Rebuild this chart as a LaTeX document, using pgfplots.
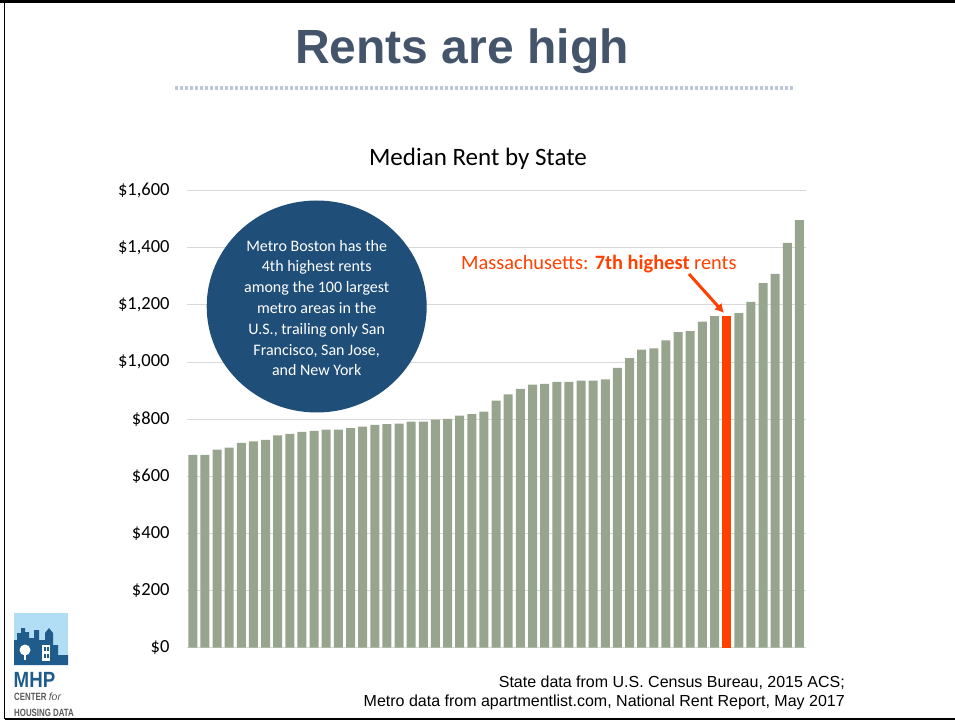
\documentclass[border=0pt]{standalone}
\usepackage{fontspec}
\setmainfont{Carlito}
\newfontfamily\arial{Liberation Sans}
\newfontfamily\narrow[FakeStretch=0.75]{Liberation Sans Bold}
\newfontfamily\narrowb[FakeStretch=0.85]{Liberation Sans Bold}
\usepackage{pgfplots}
\pgfplotsset{compat=1.18}
\usetikzlibrary{arrows.meta}
\definecolor{barg}{RGB}{152,165,142}
\definecolor{barr}{RGB}{255,64,0}
\definecolor{circ}{RGB}{31,78,121}
\definecolor{ttl}{RGB}{68,84,106}
\definecolor{dotc}{RGB}{190,200,214}
\definecolor{logob}{RGB}{31,92,139}
\definecolor{logol}{RGB}{178,222,245}
\definecolor{gridc}{RGB}{217,217,217}
\begin{document}
\begin{tikzpicture}[x=1pt,y=1pt]
\useasboundingbox (0,0) rectangle (955,721);
% frame
\draw[black,line width=3pt] (0,719.5) -- (955,719.5);
\draw[black,line width=1.2pt] (4.5,721) -- (4.5,2);
\draw[black,line width=1.2pt] (4.5,2) -- (955,2);
% title
\node[font=\arial\bfseries\fontsize{48}{48}\selectfont, text=ttl, anchor=base] at (462,721-64) {Rents are high};
\draw[dotc, line width=4pt, dash pattern=on 3pt off 2pt] (175,721-88) -- (795,721-88);
\node[font=\fontsize{25}{25}\selectfont, anchor=base] at (478,721-166) {Median Rent by State};
\begin{axis}[
  at={(186.7pt,73.5pt)}, anchor=south west,
  scale only axis, width=618.8pt, height=456.8pt,
  xmin=0.5, xmax=51.5, ymin=0, ymax=1600,
  axis line style={draw=none},
  xtick=\empty,
  ytick={0,200,...,1600},
  yticklabels={{\$0},{\$200},{\$400},{\$600},{\$800},{\$1,000},{\$1,200},{\$1,400},{\$1,600}},
  major tick length=0pt,
  ytick style={draw=none},
  yticklabel style={font=\fontsize{18.5}{18.5}\selectfont, anchor=east, inner sep=0pt, xshift=-17pt},
  ymajorgrids, grid style={color=gridc, line width=1pt},
  ybar, bar width=9pt, bar shift=0pt,
  clip=false,
]
\addplot[fill=barg, draw=none] coordinates {
(1,675)(2,675)(3,693)(4,700)(5,717)(6,722)(7,727)(8,743)(9,748)(10,755)
(11,759)(12,763)(13,763)(14,768)(15,774)(16,780)(17,782)(18,784)(19,791)(20,791)
(21,798)(22,801)(23,812)(24,817)(25,826)(26,865)(27,887)(28,906)(29,921)(30,923)
(31,930)(32,930)(33,935)(34,935)(35,939)(36,979)(37,1014)(38,1043)(39,1048)(40,1076)
(41,1105)(42,1108)(43,1141)(44,1161)(46,1171)(47,1211)(48,1276)(49,1309)(50,1417)(51,1497)
};
\addplot[fill=barr, draw=none] coordinates {(45,1161)};
\end{axis}
% circle annotation
\fill[circ] (316.7,721-306.5) ellipse [x radius=110, y radius=106];
\node[text=white, align=center, font=\fontsize{16}{20.8}\selectfont] at (316.7,721-308) {Metro Boston has the\\4th highest rents\\among the 100 largest\\metro areas in the\\U.S., trailing only San\\Francisco, San Jose,\\and New York};
% Massachusetts annotation
\node[text=barr, font=\fontsize{20.4}{20.4}\selectfont, anchor=base west, inner sep=0pt] at (461,721-270) {Massachusetts: \textbf{7th highest} rents};
\draw[barr, line width=3pt, -{Latex[length=9pt,width=10pt]}] (689,721-274) -- (724,721-313);
% footer
\node[font=\arial\fontsize{16}{16}\selectfont, anchor=base east, inner sep=0pt] at (845,721-687) {State data from U.S. Census Bureau, 2015 ACS;};
\node[font=\arial\fontsize{16}{16}\selectfont, anchor=base east, inner sep=0pt] at (845,721-706) {Metro data from apartmentlist.com, National Rent Report, May 2017};
% logo
\fill[logol] (14,721-665) rectangle (68,721-613);
\fill[logob] (14,721-665) -- (14,721-640) -- (17,721-640) -- (17,721-633) -- (21,721-633) -- (21,721-628) -- (25,721-628) -- (25,721-632) -- (29,721-632) -- (29,721-638) -- (34,721-638) -- (34,721-630) -- (39,721-630) -- (39,721-640) -- (45,721-640) -- (45,721-633) -- (49,721-628) -- (53,721-633) -- (53,721-645) -- (58,721-645) -- (58,721-655) -- (68,721-655) -- (68,721-665) -- cycle;
\fill[white] (25,721-650) circle (5.5);
\fill[white] (24,721-660) rectangle (26,721-654);
\fill[white] (42,721-661) rectangle (50,721-645);
\fill[logob] (44,721-651) rectangle (45.5,721-647);
\fill[logob] (47,721-651) rectangle (48.5,721-647);
\fill[logob] (44,721-658) rectangle (45.5,721-654);
\fill[logob] (47,721-658) rectangle (48.5,721-654);
\node[text=logob, font=\narrowb\fontsize{22}{22}\selectfont, anchor=base west, inner sep=0pt] at (13.5,721-687) {MHP};
\node[text=black!65, font=\narrow\fontsize{10.5}{10.5}\selectfont, anchor=base west, inner sep=0pt] at (14,721-700) {CENTER \textit{\arial for}};
\node[text=black!65, font=\narrow\fontsize{10.5}{10.5}\selectfont, anchor=base west, inner sep=0pt] at (14,721-716) {HOUSING DATA};
\end{tikzpicture}
\end{document}
